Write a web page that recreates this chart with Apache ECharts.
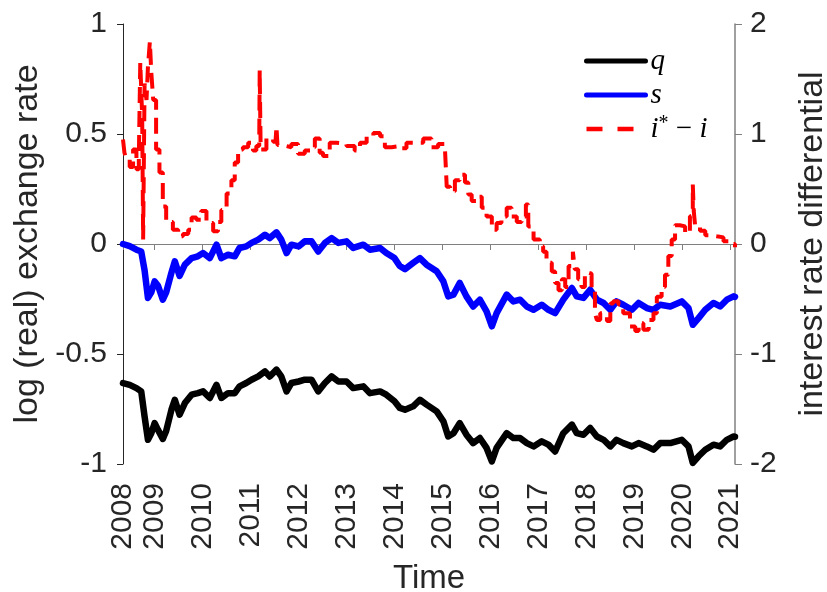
<!DOCTYPE html>
<html>
<head>
<meta charset="utf-8">
<script src="https://cdn.jsdelivr.net/npm/echarts@6/dist/echarts.min.js"></script>
<style>
html,body{margin:0;padding:0;background:#fff;}
#chart{width:827px;height:592px;}
</style>
</head>
<body>
<div id="chart"></div>
<script>
// ---- Data ----
const xMin = 2008.34;
const xMax = 2021.10;
const xTickPositions = [2008.34, 2009, 2010, 2011, 2012, 2013, 2014, 2015, 2016, 2017, 2018, 2019, 2020, 2021];
const xTickLabels = ['2008','2009','2010','2011','2012','2013','2014','2015','2016','2017','2018','2019','2020','2021'];

const sYears = [2008.34,2008.48,2008.62,2008.72,2008.79,2008.86,2008.93,2009.00,2009.07,2009.17,2009.24,2009.35,2009.42,2009.52,2009.63,2009.77,2009.90,2010.01,2010.15,2010.29,2010.39,2010.53,2010.67,2010.77,2010.91,2011.02,2011.16,2011.30,2011.40,2011.54,2011.64,2011.75,2011.85,2012.00,2012.13,2012.27,2012.41,2012.55,2012.69,2012.83,2013.00,2013.14,2013.35,2013.49,2013.70,2013.83,2014.00,2014.11,2014.22,2014.39,2014.53,2014.67,2014.88,2015.02,2015.12,2015.23,2015.36,2015.50,2015.64,2015.78,2015.92,2016.03,2016.13,2016.34,2016.48,2016.62,2016.76,2016.90,2017.07,2017.21,2017.35,2017.52,2017.70,2017.80,2017.94,2018.08,2018.22,2018.36,2018.50,2018.63,2018.77,2018.95,2019.09,2019.26,2019.40,2019.54,2019.75,2019.99,2020.13,2020.22,2020.34,2020.48,2020.65,2020.79,2020.93,2021.07,2021.10];

const sValues = [0.000,-0.010,-0.026,-0.034,-0.120,-0.245,-0.220,-0.170,-0.190,-0.253,-0.220,-0.130,-0.079,-0.145,-0.094,-0.064,-0.056,-0.041,-0.064,-0.003,-0.064,-0.049,-0.056,-0.018,-0.011,0.005,0.020,0.042,0.027,0.053,0.020,-0.041,-0.003,-0.011,0.012,0.012,-0.034,0.005,0.027,0.005,0.012,-0.018,-0.003,-0.026,-0.018,-0.041,-0.064,-0.100,-0.114,-0.086,-0.064,-0.094,-0.124,-0.170,-0.238,-0.230,-0.177,-0.238,-0.284,-0.253,-0.306,-0.374,-0.314,-0.230,-0.261,-0.253,-0.284,-0.299,-0.276,-0.299,-0.314,-0.253,-0.200,-0.238,-0.245,-0.208,-0.253,-0.268,-0.299,-0.261,-0.276,-0.299,-0.268,-0.291,-0.299,-0.276,-0.284,-0.261,-0.291,-0.367,-0.337,-0.299,-0.268,-0.284,-0.253,-0.238,-0.240];

const qValues = [-0.632,-0.640,-0.655,-0.670,-0.784,-0.890,-0.860,-0.814,-0.845,-0.886,-0.850,-0.753,-0.708,-0.776,-0.723,-0.685,-0.678,-0.670,-0.700,-0.640,-0.700,-0.678,-0.678,-0.647,-0.632,-0.617,-0.602,-0.579,-0.602,-0.571,-0.602,-0.670,-0.632,-0.625,-0.617,-0.617,-0.670,-0.632,-0.602,-0.625,-0.625,-0.655,-0.647,-0.678,-0.670,-0.685,-0.715,-0.745,-0.753,-0.738,-0.708,-0.730,-0.761,-0.806,-0.875,-0.860,-0.814,-0.867,-0.905,-0.882,-0.927,-0.988,-0.927,-0.860,-0.882,-0.882,-0.905,-0.920,-0.897,-0.912,-0.943,-0.860,-0.821,-0.860,-0.867,-0.836,-0.875,-0.890,-0.920,-0.890,-0.905,-0.920,-0.905,-0.920,-0.935,-0.905,-0.905,-0.890,-0.920,-0.995,-0.965,-0.935,-0.912,-0.920,-0.890,-0.875,-0.876];

const rYears = [2008.34,2008.37,2008.41,2008.48,2008.55,2008.62,2008.67,2008.70,2008.74,2008.76,2008.79,2008.83,2008.86,2008.90,2008.93,2008.97,2009.03,2009.10,2009.17,2009.24,2009.31,2009.38,2009.49,2009.59,2009.70,2009.77,2009.87,2009.97,2010.08,2010.22,2010.32,2010.39,2010.50,2010.60,2010.67,2010.74,2010.84,2010.95,2011.05,2011.12,2011.18,2011.19,2011.21,2011.33,2011.47,2011.52,2011.54,2011.56,2011.61,2011.75,2011.85,2011.99,2012.13,2012.27,2012.34,2012.44,2012.51,2012.65,2012.79,2013.00,2013.17,2013.28,2013.42,2013.56,2013.70,2013.80,2013.94,2014.11,2014.25,2014.39,2014.60,2014.77,2014.91,2015.05,2015.09,2015.16,2015.26,2015.36,2015.47,2015.54,2015.61,2015.71,2015.82,2015.92,2016.03,2016.13,2016.23,2016.34,2016.44,2016.55,2016.65,2016.74,2016.79,2016.90,2017.03,2017.10,2017.17,2017.28,2017.35,2017.42,2017.49,2017.56,2017.63,2017.72,2017.76,2017.83,2017.90,2017.97,2018.04,2018.11,2018.18,2018.22,2018.29,2018.36,2018.43,2018.50,2018.56,2018.67,2018.77,2018.91,2019.02,2019.09,2019.19,2019.30,2019.40,2019.47,2019.57,2019.64,2019.71,2019.78,2019.85,2019.95,2020.06,2020.16,2020.20,2020.22,2020.24,2020.27,2020.37,2020.48,2020.58,2020.72,2020.86,2021.00,2021.10];

const rValues = [0.95,0.83,0.77,0.70,0.86,0.68,0.79,1.65,1.16,0.04,1.46,1.31,1.61,1.84,1.56,1.31,0.86,0.65,0.34,0.22,0.20,0.13,0.07,0.09,0.13,0.24,0.22,0.30,0.19,0.115,0.20,0.31,0.46,0.58,0.74,0.86,0.88,0.92,0.85,0.89,0.90,1.58,0.86,0.96,0.93,0.93,1.07,0.90,0.89,0.88,0.91,0.82,0.85,0.88,0.96,0.83,0.80,0.92,0.91,0.89,0.85,0.92,0.98,1.01,0.98,0.88,0.89,0.87,0.92,0.92,0.96,0.88,0.91,0.89,0.52,0.48,0.58,0.63,0.56,0.45,0.39,0.43,0.33,0.25,0.13,0.19,0.25,0.33,0.25,0.20,0.25,0.36,0.16,0.04,-0.02,-0.07,-0.17,-0.25,-0.355,-0.42,-0.32,-0.39,-0.20,-0.07,-0.23,-0.32,-0.39,-0.26,-0.27,-0.42,-0.63,-0.69,-0.63,-0.64,-0.70,-0.54,-0.52,-0.55,-0.63,-0.75,-0.79,-0.72,-0.78,-0.69,-0.63,-0.48,-0.39,-0.28,-0.11,0.04,0.17,0.16,0.10,0.25,0.26,0.54,0.30,0.16,0.12,0.08,0.07,0.06,0.025,0.00,-0.03];

const seriesNames = ['q', 's', 'i*−i'];

// ---- Chart ----
const chart = echarts.init(document.getElementById('chart'), null, {renderer: 'canvas'});
const sans = 'Liberation Sans, Arial, Helvetica, sans-serif';
const serif = 'Liberation Serif, Times New Roman, serif';

function xLabel(v) {
  for (let i = 0; i < xTickPositions.length; i++) {
    if (Math.abs(xTickPositions[i] - v) < 1e-6) return xTickLabels[i];
  }
  return '';
}

const option = {
  animation: false,
  backgroundColor: '#ffffff',
  grid: {left: 123, right: 92, top: 24, bottom: 128, containLabel: false, outerBoundsMode: 'none'},
  legend: {
    orient: 'vertical',
    left: 579,
    top: 41,
    itemWidth: 59,
    itemHeight: 14,
    itemGap: 4,
    itemStyle: {color: 'rgba(0,0,0,0)', borderWidth: 0, opacity: 0},
    lineStyle: {width: 5},
    formatter: function (name) {
      if (name === seriesNames[2]) return '{it|i}{sup|*}{rm| − }{it|i}';
      return '{it|' + name + '}';
    },
    textStyle: {
      lineHeight: 30,
      rich: {
        it: {fontFamily: serif, fontStyle: 'italic', fontSize: 29, color: '#000', lineHeight: 30},
        rm: {fontFamily: serif, fontSize: 29, color: '#000', lineHeight: 30},
        sup: {fontFamily: serif, fontSize: 20, color: '#000', verticalAlign: 'top', lineHeight: 30}
      }
    },
    data: [
      {name: seriesNames[0]},
      {name: seriesNames[1]},
      {name: seriesNames[2], lineStyle: {width: 4.5, type: [16, 15]}}
    ]
  },
  xAxis: {
    type: 'value',
    min: xMin,
    max: xMax,
    axisLine: {show: true, lineStyle: {color: '#808080', width: 1}},
    axisTick: {show: true, inside: false, length: 6, lineStyle: {color: '#808080'}, customValues: xTickPositions},
    axisLabel: {customValues: xTickPositions, formatter: xLabel, rotate: 90, margin: 19, fontSize: 30, color: '#262626', fontFamily: sans},
    splitLine: {show: false},
    name: 'Time',
    nameLocation: 'middle',
    nameGap: 98,
    nameTextStyle: {fontSize: 33, color: '#262626', fontFamily: sans}
  },
  yAxis: [
    {
      type: 'value', position: 'left', min: -1, max: 1, interval: 0.5,
      axisLine: {show: true, lineStyle: {color: '#262626', width: 1}},
      axisTick: {show: true, inside: false, length: 6, lineStyle: {color: '#262626'}},
      axisLabel: {fontSize: 30, color: '#262626', margin: 16, fontFamily: sans},
      splitLine: {show: false},
      name: 'log (real) exchange rate',
      nameLocation: 'middle', nameRotate: 90, nameGap: 76,
      nameTextStyle: {fontSize: 34, color: '#262626', fontFamily: sans}
    },
    {
      type: 'value', position: 'right', min: -2, max: 2, interval: 1,
      axisLine: {show: true, lineStyle: {color: '#808080', width: 1.5}},
      axisTick: {show: true, inside: false, length: 7, lineStyle: {color: '#808080'}},
      axisLabel: {fontSize: 30, color: '#262626', margin: 15, fontFamily: sans},
      splitLine: {show: false},
      name: 'interest rate differential',
      nameLocation: 'middle', nameRotate: 90, nameGap: 61,
      nameTextStyle: {fontSize: 34, color: '#262626', fontFamily: sans}
    }
  ],
  series: [
    {
      name: seriesNames[0], type: 'line', yAxisIndex: 0, symbol: 'none', showSymbol: false,
      data: sYears.map((y, i) => [y, qValues[i]]),
      lineStyle: {color: '#000000', width: 6.5, join: 'round', cap: 'round'},
      itemStyle: {color: '#000000'}, z: 3
    },
    {
      name: seriesNames[1], type: 'line', yAxisIndex: 0, symbol: 'none', showSymbol: false,
      data: sYears.map((y, i) => [y, sValues[i]]),
      lineStyle: {color: '#0000ff', width: 6.5, join: 'round', cap: 'round'},
      itemStyle: {color: '#0000ff'}, z: 3
    },
    {
      name: seriesNames[2], type: 'line', yAxisIndex: 1, symbol: 'none', showSymbol: false,
      step: 'end',
      data: rYears.map((y, i) => [y, rValues[i]]),
      lineStyle: {color: '#ff0000', width: 4, type: [16, 8]},
      itemStyle: {color: '#ff0000'}, z: 4
    }
  ]
};
chart.setOption(option);
</script>
</body>
</html>
